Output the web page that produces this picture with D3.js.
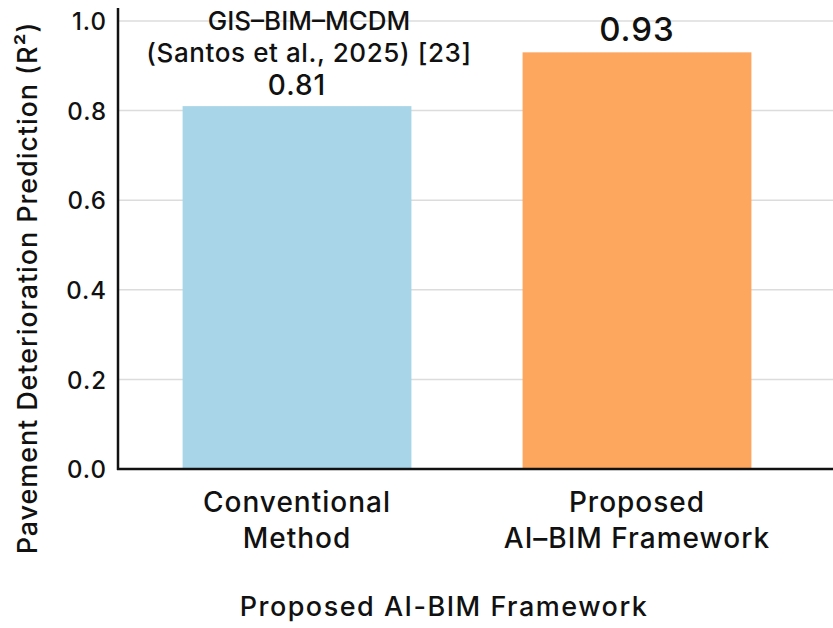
<!DOCTYPE html>
<html>
<head>
<meta charset="utf-8">
<script src="https://cdn.jsdelivr.net/npm/d3@7/dist/d3.min.js"></script>
<style>
  html, body { margin: 0; padding: 0; background: #ffffff; }
  svg { display: block; }
  text { font-family: Inter, "Liberation Sans", Arial, sans-serif; fill: #111; font-weight: 500; }
</style>
</head>
<body>
<svg id="chart" width="833" height="628"></svg>
<script>
// Model performance data
const categories = ["Conventional Method", "Proposed AI-BIM Framework"];
const categoryLines = [["Conventional", "Method"], ["Proposed", "AI–BIM Framework"]];
const r2Values = [0.81, 0.93];
const valueLabels = ["0.81", "0.93"];
const barColors = ["#a8d5e8", "#fca65e"];
const yTicks = [0.0, 0.2, 0.4, 0.6, 0.8, 1.0];
const annotationLines = ["GIS–BIM–MCDM", "(Santos et al., 2025) [23]"];
const yTitle = "Pavement Deterioration Prediction (R²)";
const xTitle = "Proposed AI-BIM Framework";

const svg = d3.select("#chart");
const W = 833, H = 628;
const plot = { left: 118, right: 816, top: 21, bottom: 469 };

const x = d3.scaleBand()
  .domain(categories)
  .range([plot.left, plot.right])
  .paddingInner(0.327)
  .paddingOuter(0.19);

const y = d3.scaleLinear()
  .domain([0, 1])
  .range([plot.bottom, plot.top]);

const cx = d => x(d) + x.bandwidth() / 2;

// Horizontal gridlines
svg.append("g")
  .selectAll("line")
  .data(yTicks.filter(d => d > 0))
  .join("line")
  .attr("x1", plot.left)
  .attr("x2", W)
  .attr("y1", d => y(d))
  .attr("y2", d => y(d))
  .attr("stroke", "#dcdcdc")
  .attr("stroke-width", 1.5);

// Bars
svg.append("g")
  .selectAll("rect")
  .data(categories)
  .join("rect")
  .attr("x", d => x(d))
  .attr("width", x.bandwidth())
  .attr("y", (d, i) => y(r2Values[i]))
  .attr("height", (d, i) => y(0) - y(r2Values[i]))
  .attr("fill", (d, i) => barColors[i]);

// Y axis
const yAxis = d3.axisLeft(y)
  .tickValues(yTicks)
  .tickFormat(d3.format(".1f"))
  .tickSize(0)
  .tickPadding(11);

const gy = svg.append("g")
  .attr("transform", `translate(${plot.left},0)`)
  .call(yAxis);
gy.select(".domain").remove();
gy.selectAll("text")
  .attr("dy", "0.36em")
  .style("font-family", "Inter, 'Liberation Sans', Arial, sans-serif")
  .style("font-size", "24px")
  .style("font-weight", 500)
  .style("letter-spacing", "1px")
  .attr("fill", "#111");

// Axis lines
svg.append("line")
  .attr("x1", plot.left).attr("x2", plot.left)
  .attr("y1", 8).attr("y2", plot.bottom + 1)
  .attr("stroke", "#111").attr("stroke-width", 2.5);
svg.append("line")
  .attr("x1", plot.left - 1).attr("x2", W)
  .attr("y1", plot.bottom).attr("y2", plot.bottom)
  .attr("stroke", "#111").attr("stroke-width", 2.5);

// Category labels
const catG = svg.append("g");
categories.forEach((c, i) => {
  const t = catG.append("text")
    .attr("x", cx(c))
    .attr("y", 512)
    .attr("text-anchor", "middle")
    .style("font-size", "28px")
    .style("letter-spacing", "1px");
  categoryLines[i].forEach((line, j) => {
    t.append("tspan")
      .attr("x", cx(c))
      .attr("dy", j === 0 ? 0 : 36)
      .text(line);
  });
});

// Value labels above bars
const labelSizes = [28, 33];
svg.append("g")
  .selectAll("text")
  .data(categories)
  .join("text")
  .attr("x", d => cx(d))
  .attr("y", (d, i) => y(r2Values[i]) - 11)
  .attr("text-anchor", "middle")
  .style("font-size", (d, i) => labelSizes[i] + "px")
  .style("letter-spacing", "1px")
  .text((d, i) => valueLabels[i]);

// Reference annotation stacked above the conventional bar's label
const annX = cx(categories[0]) + 12;
const annBase = y(r2Values[0]) - 11 - 33;
annotationLines.forEach((line, j) => {
  svg.append("text")
    .attr("x", annX)
    .attr("y", annBase - (annotationLines.length - 1 - j) * 32)
    .attr("text-anchor", "middle")
    .style("font-size", "26px")
    .style("letter-spacing", j === 0 ? "0px" : "0.6px")
    .text(line);
});

// Axis titles
svg.append("text")
  .attr("transform", "translate(37,288) rotate(-90)")
  .attr("text-anchor", "middle")
  .style("font-size", "27px")
  .style("letter-spacing", "0.9px")
  .text(yTitle);

svg.append("text")
  .attr("x", 444)
  .attr("y", 616)
  .attr("text-anchor", "middle")
  .style("font-size", "27px")
  .style("letter-spacing", "1.5px")
  .text(xTitle);
</script>
</body>
</html>
